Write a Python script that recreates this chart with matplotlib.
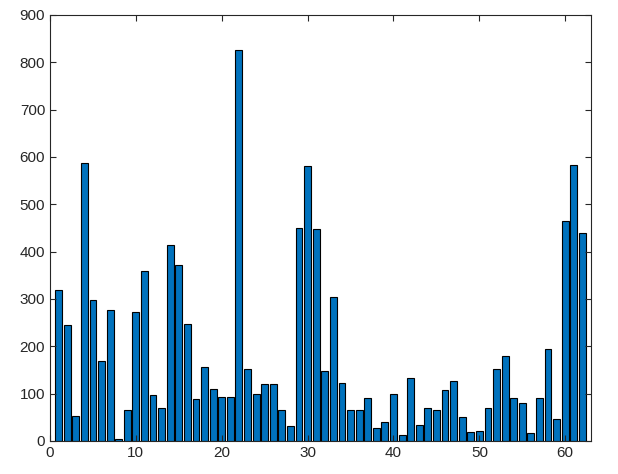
import numpy as np
import matplotlib.pyplot as plt

values = [318, 245, 53, 588, 297, 168, 276, 4, 65, 272, 360, 97, 70, 415, 372,
          247, 88, 156, 110, 94, 92, 826, 153, 99, 120, 120, 65, 31, 449, 580,
          447, 147, 305, 122, 65, 65, 90, 27, 40, 100, 13, 133, 34, 70, 65,
          108, 126, 50, 19, 21, 70, 152, 179, 90, 80, 16, 90, 194, 46, 464,
          584, 440]
x = np.arange(1, len(values) + 1)

plt.rcParams['font.family'] = ['Arial', 'Liberation Sans', 'DejaVu Sans']
fig = plt.figure(figsize=(6.18, 4.74), dpi=100)
ax = fig.add_axes([50 / 618, 33 / 474, 541 / 618, 426 / 474])
ax.bar(x, values, width=0.8, color='#0072BD', edgecolor='black', linewidth=0.8)
ax.set_xlim(0, 63)
ax.set_ylim(0, 900)
ax.set_xticks(range(0, 61, 10))
ax.set_yticks(range(0, 901, 100))
ax.tick_params(direction='in', top=True, right=True, labelsize=11, colors='#262626', length=4)
for s in ax.spines.values():
    s.set_color('#262626')
    s.set_linewidth(0.8)
fig.savefig('out.png', dpi=100)
